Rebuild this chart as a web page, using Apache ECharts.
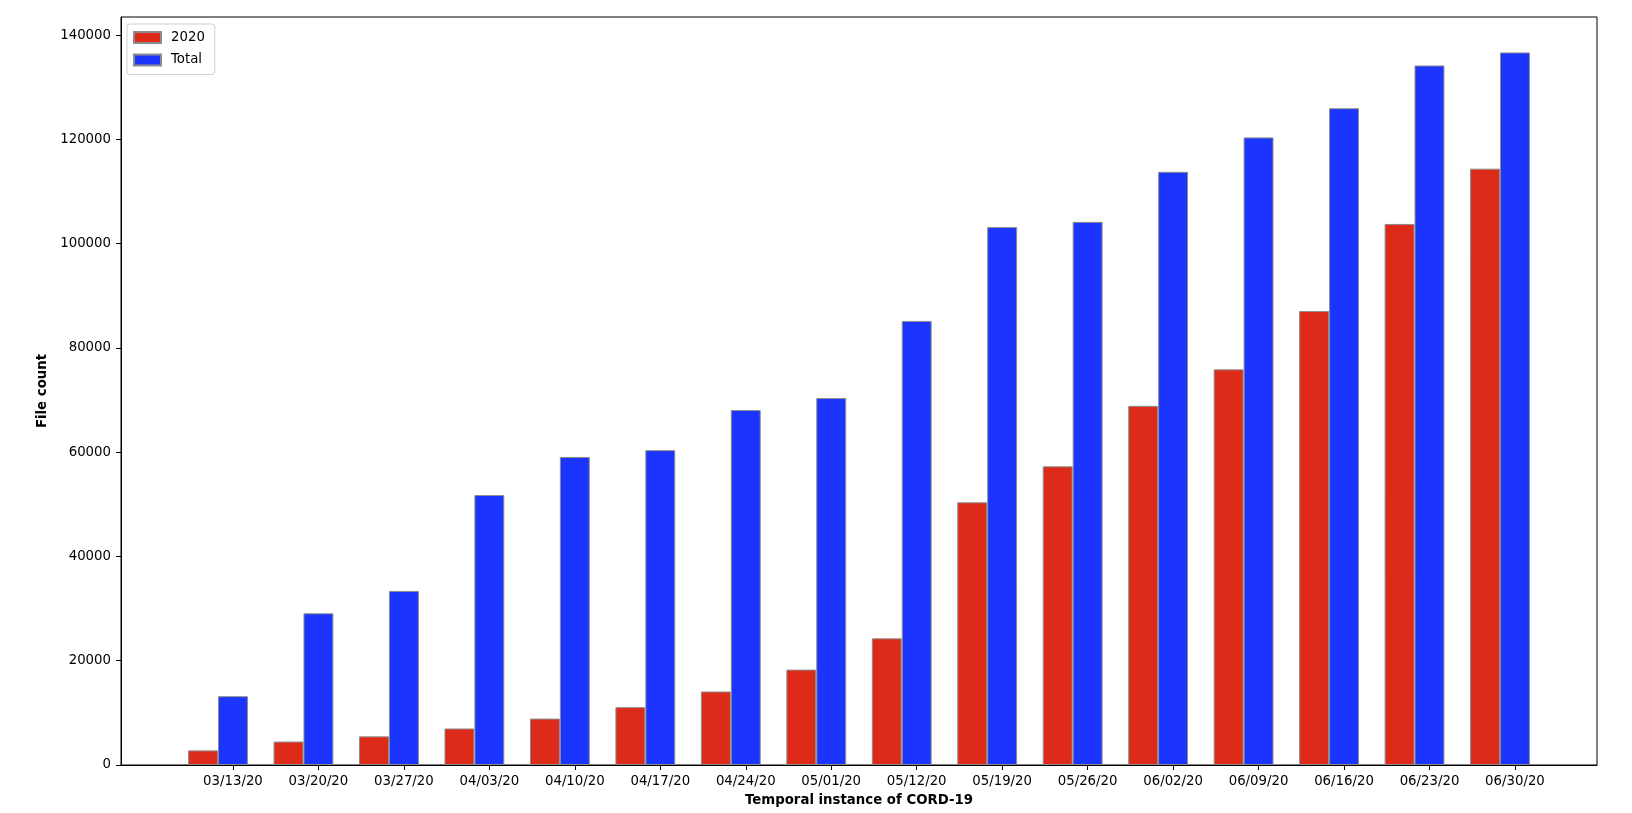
<!DOCTYPE html>
<html><head><meta charset="utf-8">
<script src="https://cdn.jsdelivr.net/npm/echarts@6/dist/echarts.min.js"></script>
<style>html,body{margin:0;padding:0;background:#fff}#c{width:1632px;height:813px}</style>
</head><body><div id="c"></div>
<script>
const categories = ['03/13/20','03/20/20','03/27/20','04/03/20','04/10/20','04/17/20','04/24/20','05/01/20','05/12/20','05/19/20','05/26/20','06/02/20','06/09/20','06/16/20','06/23/20','06/30/20'];
const values2020 = [2800, 4500, 5500, 7000, 8900, 11100, 14100, 18300, 24300, 50400, 57300, 68900, 75900, 87100, 103800, 114400];
const valuesTotal = [13200, 29100, 33400, 51800, 59100, 60400, 68100, 70400, 85200, 103200, 104200, 113800, 120400, 126000, 134200, 136700];
const yTicks = [0, 20000, 40000, 60000, 80000, 100000, 120000, 140000];
const seriesNames = ['2020', 'Total'];

const barUnit = 0.35;
const xMin = -1.31, xMax = 15.96, yMax = 143500;
const gridLeft = 121, gridRight = 35, gridTop = 17, gridBottom = 48;
const plotW = 1632 - gridLeft - gridRight;
const barPx = barUnit * plotW / (xMax - xMin);
const font = 'DejaVu Sans';
const fs = 13.3;

const chart = echarts.init(document.getElementById('c'));
chart.setOption({
  animation: false,
  backgroundColor: '#fff',
  grid: { left: gridLeft, right: gridRight, top: gridTop, bottom: gridBottom, show: true, borderColor: '#000', borderWidth: 1, backgroundColor: 'transparent' },
  legend: {
    orient: 'vertical', left: 127, top: 24,
    padding: [7, 10, 8, 6],
    itemWidth: 27, itemHeight: 11, itemGap: 9.5,
    borderColor: '#d0d0d0', borderWidth: 1, borderRadius: 3,
    backgroundColor: 'rgba(255,255,255,0.8)',
    icon: 'rect',
    textStyle: { fontFamily: font, fontSize: fs, color: '#000', padding: [0, 0, 0, 5] },
    data: seriesNames
  },
  xAxis: {
    type: 'value', min: xMin, max: xMax,
    name: 'Temporal instance of CORD-19', nameLocation: 'middle', nameGap: 29,
    nameTextStyle: { fontFamily: font, fontSize: fs, fontWeight: 'bold', color: '#000' },
    axisLine: { show: true, onZero: false, lineStyle: { color: '#000', width: 1 } },
    axisTick: { show: true, length: 5, lineStyle: { color: '#000' }, customValues: categories.map((c, i) => i) },
    axisLabel: { margin: 10, fontFamily: font, fontSize: fs, color: '#000', customValues: categories.map((c, i) => i), formatter: v => categories[Math.round(v)] },
    splitLine: { show: false }
  },
  yAxis: {
    type: 'value', min: 0, max: yMax,
    name: 'File count', nameLocation: 'middle', nameGap: 68,
    nameTextStyle: { fontFamily: font, fontSize: fs, fontWeight: 'bold', color: '#000' },
    axisLine: { show: true, onZero: false, lineStyle: { color: '#000', width: 1 } },
    axisTick: { show: true, length: 5, lineStyle: { color: '#000' }, customValues: yTicks },
    axisLabel: { margin: 10, fontFamily: font, fontSize: fs, color: '#000', customValues: yTicks, formatter: v => String(v) },
    splitLine: { show: false }
  },
  series: [
    {
      name: seriesNames[0], type: 'bar', barWidth: barPx, barGap: '-100%',
      itemStyle: { color: '#dd2a19', borderColor: '#8c8c8c', borderWidth: 1 },
      data: values2020.map((v, i) => [i - barUnit, v])
    },
    {
      name: seriesNames[1], type: 'bar', barWidth: barPx, barGap: '-100%',
      itemStyle: { color: '#1c35fe', borderColor: '#8c8c8c', borderWidth: 1 },
      data: valuesTotal.map((v, i) => [i, v])
    }
  ]
});
</script></body></html>
